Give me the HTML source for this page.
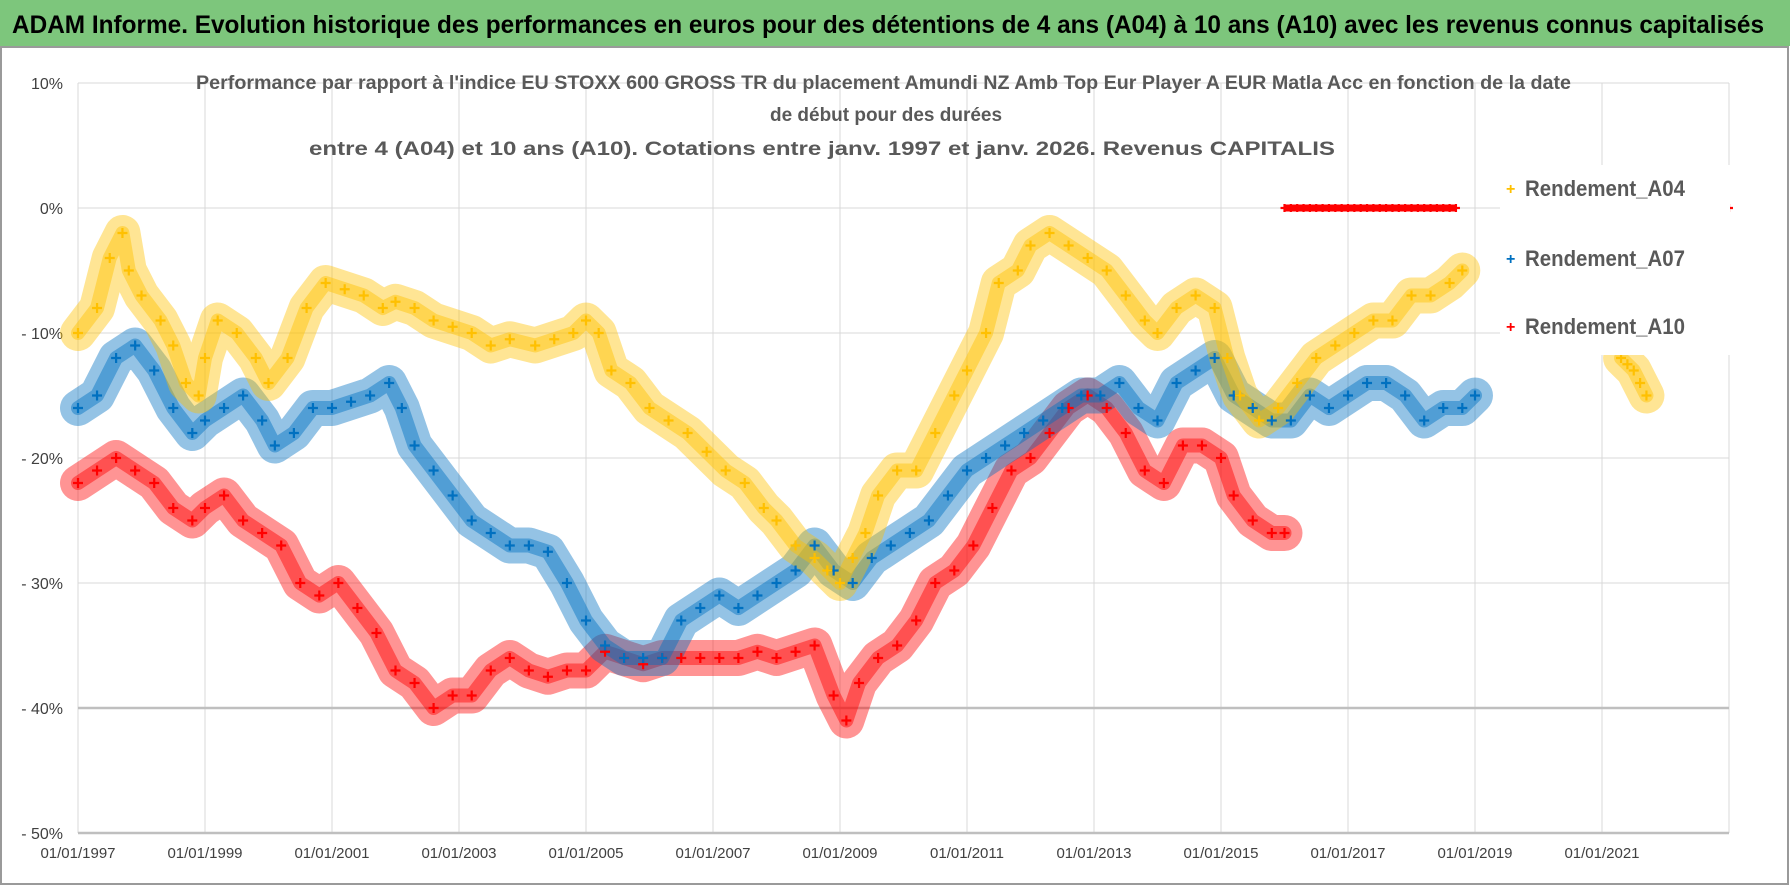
<!DOCTYPE html>
<html><head><meta charset="utf-8">
<style>
html,body{margin:0;padding:0;background:#fff;}
svg{display:block;}
text{font-family:"Liberation Sans","DejaVu Sans",sans-serif;}
</style></head>
<body>
<svg id="chart" width="1790" height="886" viewBox="0 0 1790 886" xmlns="http://www.w3.org/2000/svg">
<rect x="0" y="0" width="1790" height="886" fill="#fff"/>
<rect x="0" y="0" width="1790" height="46" fill="#7dc67c"/>
<text x="12" y="33" font-size="25" font-weight="bold" fill="#000" textLength="1752" lengthAdjust="spacingAndGlyphs">ADAM Informe. Evolution historique des performances en euros pour des détentions de 4 ans (A04) à 10 ans (A10) avec les revenus connus capitalisés</text>
<rect x="1" y="47" width="1787" height="837" fill="none" stroke="#9a9a9a" stroke-width="2"/>
<g id="grid"></g>
<g id="series"></g>
<text x="196" y="89" font-size="19" font-weight="bold" fill="#595959" textLength="1375" lengthAdjust="spacingAndGlyphs">Performance par rapport à l'indice EU STOXX 600 GROSS TR  du placement Amundi NZ Amb Top Eur Player A EUR Matla Acc en fonction de la date</text>
<text x="770" y="121" font-size="19" font-weight="bold" fill="#595959" textLength="232" lengthAdjust="spacingAndGlyphs">de début pour des durées</text>
<text x="309" y="155" font-size="19" font-weight="bold" fill="#595959" textLength="1026" lengthAdjust="spacingAndGlyphs">entre 4 (A04) et 10 ans (A10). Cotations entre janv. 1997 et janv. 2026. Revenus CAPITALIS</text>
<g>
<rect x="1500" y="165" width="230" height="190" fill="#fff"/>
<text x="1506" y="194" font-size="16" fill="#ffc000" font-weight="bold">+</text>
<text x="1525" y="196" font-size="22" fill="#595959" font-weight="bold" textLength="160" lengthAdjust="spacingAndGlyphs">Rendement_A04</text>
<text x="1506" y="264" font-size="16" fill="#0070c0" font-weight="bold">+</text>
<text x="1525" y="266" font-size="22" fill="#595959" font-weight="bold" textLength="160" lengthAdjust="spacingAndGlyphs">Rendement_A07</text>
<text x="1506" y="332" font-size="16" fill="#ff0000" font-weight="bold">+</text>
<text x="1525" y="334" font-size="22" fill="#595959" font-weight="bold" textLength="160" lengthAdjust="spacingAndGlyphs">Rendement_A10</text>
</g>
</svg>
<script>
const yTicks=[10,0,-10,-20,-30,-40,-50];
const xTickYears=[1997,1999,2001,2003,2005,2007,2009,2011,2013,2015,2017,2019,2021];
const a04Years=[1997.0,1997.3,1997.5,1997.7,1997.8,1998.0,1998.3,1998.5,1998.7,1998.9,1999.0,1999.2,1999.5,1999.8,2000.0,2000.3,2000.6,2000.9,2001.2,2001.5,2001.8,2002.0,2002.3,2002.6,2002.9,2003.2,2003.5,2003.8,2004.2,2004.5,2004.8,2005.0,2005.2,2005.4,2005.7,2006.0,2006.3,2006.6,2006.9,2007.2,2007.5,2007.8,2008.0,2008.3,2008.6,2008.8,2009.0,2009.2,2009.4,2009.6,2009.9,2010.2,2010.5,2010.8,2011.0,2011.3,2011.5,2011.8,2012.0,2012.3,2012.6,2012.9,2013.2,2013.5,2013.8,2014.0,2014.3,2014.6,2014.9,2015.1,2015.3,2015.6,2015.9,2016.2,2016.5,2016.8,2017.1,2017.4,2017.7,2018.0,2018.3,2018.6,2018.8];
const a04Values=[-10,-8,-4,-2,-5,-7,-9,-11,-14,-15,-12,-9,-10,-12,-14,-12,-8,-6,-6.5,-7,-8,-7.5,-8,-9,-9.5,-10,-11,-10.5,-11,-10.5,-10,-9,-10,-13,-14,-16,-17,-18,-19.5,-21,-22,-24,-25,-27,-28,-29,-30,-28,-26,-23,-21,-21,-18,-15,-13,-10,-6,-5,-3,-2,-3,-4,-5,-7,-9,-10,-8,-7,-8,-12,-15,-17,-16,-14,-12,-11,-10,-9,-9,-7,-7,-6,-5];
const a04bYears=[2021.3,2021.4,2021.5,2021.6,2021.7];
const a04bValues=[-12,-12.5,-13,-14,-15];
const a07Years=[1997.0,1997.3,1997.6,1997.9,1998.2,1998.5,1998.8,1999.0,1999.3,1999.6,1999.9,2000.1,2000.4,2000.7,2001.0,2001.3,2001.6,2001.9,2002.1,2002.3,2002.6,2002.9,2003.2,2003.5,2003.8,2004.1,2004.4,2004.7,2005.0,2005.3,2005.6,2005.9,2006.2,2006.5,2006.8,2007.1,2007.4,2007.7,2008.0,2008.3,2008.6,2008.9,2009.2,2009.5,2009.8,2010.1,2010.4,2010.7,2011.0,2011.3,2011.6,2011.9,2012.2,2012.5,2012.8,2013.1,2013.4,2013.7,2014.0,2014.3,2014.6,2014.9,2015.2,2015.5,2015.8,2016.1,2016.4,2016.7,2017.0,2017.3,2017.6,2017.9,2018.2,2018.5,2018.8,2019.0];
const a07Values=[-16,-15,-12,-11,-13,-16,-18,-17,-16,-15,-17,-19,-18,-16,-16,-15.5,-15,-14,-16,-19,-21,-23,-25,-26,-27,-27,-27.5,-30,-33,-35,-36,-36,-36,-33,-32,-31,-32,-31,-30,-29,-27,-29,-30,-28,-27,-26,-25,-23,-21,-20,-19,-18,-17,-16,-15,-15,-14,-16,-17,-14,-13,-12,-15,-16,-17,-17,-15,-16,-15,-14,-14,-15,-17,-16,-16,-15];
const a10Years=[1997.0,1997.3,1997.6,1997.9,1998.2,1998.5,1998.8,1999.0,1999.3,1999.6,1999.9,2000.2,2000.5,2000.8,2001.1,2001.4,2001.7,2002.0,2002.3,2002.6,2002.9,2003.2,2003.5,2003.8,2004.1,2004.4,2004.7,2005.0,2005.3,2005.6,2005.9,2006.2,2006.5,2006.8,2007.1,2007.4,2007.7,2008.0,2008.3,2008.6,2008.9,2009.1,2009.3,2009.6,2009.9,2010.2,2010.5,2010.8,2011.1,2011.4,2011.7,2012.0,2012.3,2012.6,2012.9,2013.2,2013.5,2013.8,2014.1,2014.4,2014.7,2015.0,2015.2,2015.5,2015.8,2016.0];
const a10Values=[-22,-21,-20,-21,-22,-24,-25,-24,-23,-25,-26,-27,-30,-31,-30,-32,-34,-37,-38,-40,-39,-39,-37,-36,-37,-37.5,-37,-37,-35.5,-36,-36.5,-36,-36,-36,-36,-36,-35.5,-36,-35.5,-35,-39,-41,-38,-36,-35,-33,-30,-29,-27,-24,-21,-20,-18,-16,-15,-16,-18,-21,-22,-19,-19,-20,-23,-25,-26,-26];
const a10ZeroYears=[2016.0,2016.1,2016.2,2016.3,2016.4,2016.5,2016.6,2016.7,2016.8,2016.9,2017.0,2017.1,2017.2,2017.3,2017.4,2017.5,2017.6,2017.7,2017.8,2017.9,2018.0,2018.1,2018.2,2018.3,2018.4,2018.5,2018.6,2018.7,2023.0];
const a10ZeroValues=[0,0,0,0,0,0,0,0,0,0,0,0,0,0,0,0,0,0,0,0,0,0,0,0,0,0,0,0,0];

const X0=78, PXY=63.5, Y0=208, PXP=12.5;
const xs=y=>X0+(y-1997)*PXY;
const ys=v=>Y0-v*PXP;
const NS='http://www.w3.org/2000/svg';
function mk(tag,attrs,parent){const e=document.createElementNS(NS,tag);for(const k in attrs)e.setAttribute(k,attrs[k]);parent.appendChild(e);return e;}
const grid=document.getElementById('grid');
xTickYears.forEach(yr=>{
  const l=mk('line',{x1:xs(yr),x2:xs(yr),y1:ys(10),y2:ys(-50),stroke:'#d9d9d9','stroke-width':1},grid);
  
  
  const t=mk('text',{x:xs(yr),y:858,'font-size':15,fill:'#404040','text-anchor':'middle'},grid);
  t.textContent='01/01/'+yr;
  
  
});
mk('line',{x1:xs(2023),x2:xs(2023),y1:ys(10),y2:ys(-50),stroke:'#d9d9d9','stroke-width':1},grid);
yTicks.forEach(v=>{
  const l=mk('line',{x1:X0,x2:xs(2023),y1:ys(v),y2:ys(v),stroke:v===-40||v===-50?'#bfbfbf':'#d9d9d9','stroke-width':v===-40||v===-50?2.5:1},grid);
  
  
  const t=mk('text',{x:63,y:ys(v)+6,'font-size':16,fill:'#404040','text-anchor':'end'},grid);
  t.textContent=(v===0?'':v>0?'':'- ')+Math.abs(v)+'%';
  
  
});
const sg=document.getElementById('series');
function band(xsA,vs,color,name){
  const pts=xsA.map((y,i)=>xs(y)+','+ys(vs[i])).join(' ');
  const p=mk('polyline',{points:pts,fill:'none',stroke:color,'stroke-width':36,'stroke-opacity':0.42,'stroke-linejoin':'round','stroke-linecap':'round'},sg);
  
  
  const p2=mk('polyline',{points:pts,fill:'none',stroke:color,'stroke-width':14,'stroke-opacity':0.45,'stroke-linejoin':'round','stroke-linecap':'round'},sg);
  
  
}
function marks(xsA,vs,color,name,s){
  xsA.forEach((y,i)=>{
    const cx=xs(y),cy=ys(vs[i]);
    const p=mk('path',{d:`M${cx-s},${cy}H${cx+s}M${cx},${cy-s}V${cy+s}`,stroke:color,'stroke-width':2.2,fill:'none'},sg);
    
    
  });
}
band(a10Years,a10Values,'#ff0000','a10');
band(a07Years,a07Values,'#0070c0','a07');
band(a04Years,a04Values,'#ffc000','a04');
band(a04bYears,a04bValues,'#ffc000','a04-late');
marks(a10Years,a10Values,'#ff0000','a10',5);
marks(a07Years,a07Values,'#0070c0','a07',5);
marks(a04Years,a04Values,'#ffc000','a04',5);
marks(a04bYears,a04bValues,'#ffc000','a04-late',5);
marks(a10ZeroYears,a10ZeroValues,'#ff0000','a10-zero',4);
const zl=mk('line',{x1:xs(2016.0),x2:xs(2018.7),y1:ys(0),y2:ys(0),stroke:'#ff0000','stroke-width':7},sg);


</script>
</body></html>
